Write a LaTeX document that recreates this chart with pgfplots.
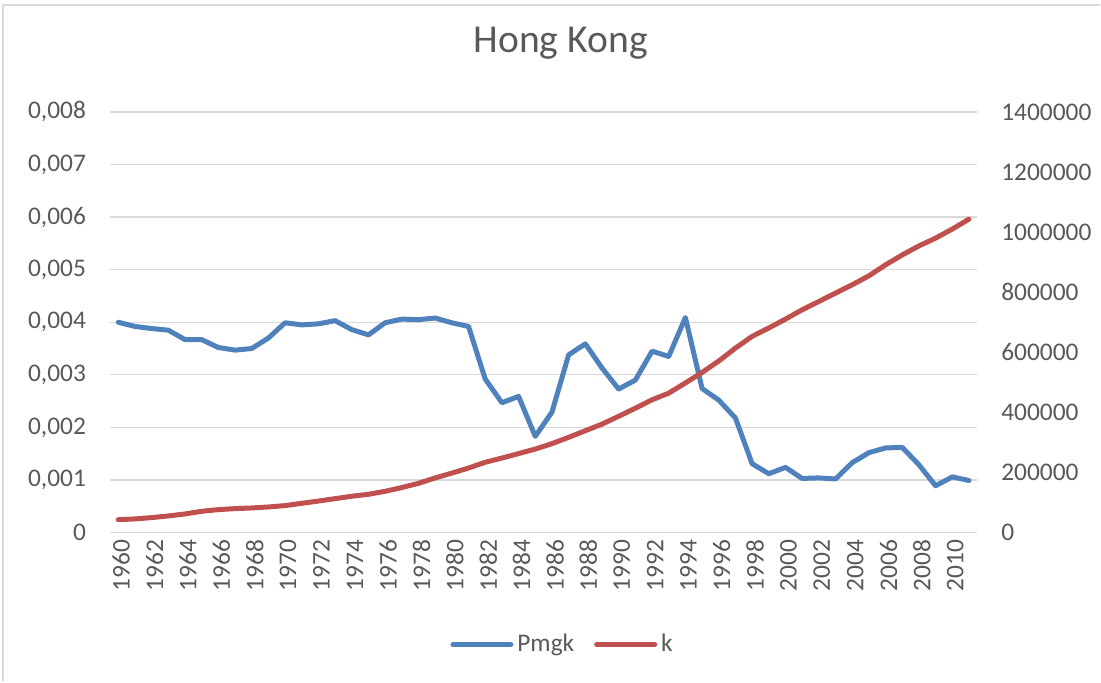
\documentclass[border=0pt]{standalone}
\usepackage{pgfplots}
\pgfplotsset{compat=1.18}
\usepackage{fontspec}
\setmainfont{Carlito}
\definecolor{exblue}{HTML}{4F81BD}
\definecolor{exred}{HTML}{C0504D}
\definecolor{gridgray}{HTML}{D9D9D9}
\definecolor{txtgray}{HTML}{595959}

\pgfplotstableread{
year pmgk k
1960 0.00400 43200
1961 0.00392 45500
1962 0.00388 49900
1963 0.00385 55400
1964 0.00367 62000
1965 0.00367 70900
1966 0.00352 76500
1967 0.00347 79800
1968 0.00350 82000
1969 0.00370 85300
1970 0.00399 89800
1971 0.00395 97500
1972 0.00397 105000
1973 0.00403 113000
1974 0.00386 121000
1975 0.00376 127500
1976 0.00399 137500
1977 0.00406 150000
1978 0.00405 164000
1979 0.00408 182000
1980 0.00399 198000
1981 0.00392 215000
1982 0.00292 234000
1983 0.00247 248000
1984 0.00259 263000
1985 0.00183 278000
1986 0.00229 296000
1987 0.00338 317000
1988 0.00359 339000
1989 0.00313 361000
1990 0.00273 387000
1991 0.00290 414000
1992 0.00345 442000
1993 0.00335 464000
1994 0.00409 498000
1995 0.00274 533000
1996 0.00252 571000
1997 0.00218 614000
1998 0.00131 653000
1999 0.00112 681000
2000 0.00124 710500
2001 0.00103 741500
2002 0.00104 769000
2003 0.00102 797000
2004 0.00133 824600
2005 0.00152 854500
2006 0.00161 891000
2007 0.00162 924000
2008 0.00129 954000
2009 0.00089 980000
2010 0.00106 1010000
2011 0.00099 1043000
}\datatable

\begin{document}
\begin{tikzpicture}
\pgfplotsset{
  every axis/.append style={
    scale only axis,
    width=434pt, height=210.5pt,
    xmin=1959.5, xmax=2011.5,
    font=\fontsize{12.7}{15}\selectfont,
    tick label style={text=txtgray},
    major tick length=0pt,
    axis line style={draw=none},
    /pgf/number format/assume math mode=true,
  },
}
\begin{axis}[
  name=ax,
  axis x line*=bottom, axis y line*=left,
  ymin=0, ymax=0.008,
  ytick={0,0.001,...,0.008},
  scaled y ticks=false,
  yticklabel style={/pgf/number format/fixed, /pgf/number format/precision=3, /pgf/number format/use comma, xshift=-8.5pt},
  xtick={1960,1962,...,2010},
  xticklabel style={/pgf/number format/1000 sep={}, rotate=90, anchor=east, yshift=-1.5pt},
  ymajorgrids, grid style={gridgray, line width=0.6pt},
  title={Hong Kong},
  title style={at={(0.5196,1)}, anchor=center, yshift=28.5pt, font=\fontsize{19.8}{23}\selectfont, text=txtgray},
  legend columns=2,
  legend style={draw=none, fill=none, at={(0.523,-0.266)}, anchor=center,
    font=\fontsize{12.7}{15}\selectfont, text=txtgray,
    /tikz/every even column/.append style={column sep=8pt}},
  legend image code/.code={\draw[#1] (0pt,0pt) -- (29pt,0pt);},
]
\addplot[exblue, line width=2.5pt, line join=round, line cap=round] table[x=year, y=pmgk] {\datatable};
\addlegendentry{Pmgk}
\addlegendimage{exred, line width=2.5pt, line cap=round}
\addlegendentry{k}
\end{axis}
\begin{axis}[
  axis x line=none, axis y line*=right,
  ymin=0, ymax=1400000,
  ytick={0,200000,...,1400000},
  scaled y ticks=false,
  yticklabel style={/pgf/number format/1000 sep={}, /pgf/number format/fixed, xshift=8.5pt},
]
\addplot[exred, line width=2.5pt, line join=round, line cap=round] table[x=year, y=k] {\datatable};
\end{axis}
\draw[gridgray, line width=0.8pt] ([xshift=-53.5pt,yshift=-74.5pt]ax.south west) -- ([xshift=-53.5pt,yshift=53.5pt]ax.north west) -- ([xshift=61.5pt,yshift=53.5pt]ax.north east);
\useasboundingbox ([xshift=-55pt,yshift=-74.5pt]ax.south west) rectangle ([xshift=61.5pt,yshift=56pt]ax.north east);
\end{tikzpicture}
\end{document}
